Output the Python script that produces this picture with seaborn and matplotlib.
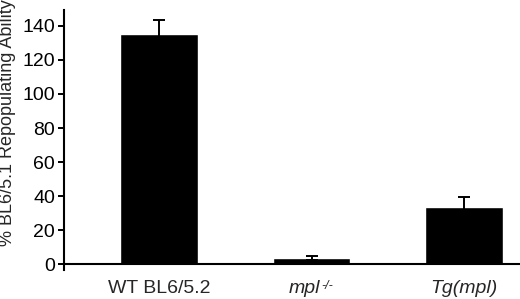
import matplotlib
matplotlib.use("Agg")
import matplotlib.pyplot as plt
import matplotlib.transforms as mtransforms
import seaborn as sns
import pandas as pd

categories = ["WT BL6/5.2", "mpl-/-", "Tg(mpl)"]
tick_labels = ["WT BL6/5.2", "mpl", "Tg(mpl)"]
superscript = "-/-"
means = [135.3, 3.5, 33.3]
errors = [8.2, 1.0, 6.3]
yticks = [0, 20, 40, 60, 80, 100, 120, 140]

sns.set_style("white")
plt.rcParams["font.family"] = ["Liberation Sans", "DejaVu Sans"]

df = pd.DataFrame({"cat": categories, "val": means})

fig = plt.figure(figsize=(5.2, 2.99), dpi=100)
ax = fig.add_axes([0.123, 0.097, 0.877, 0.8696])
sns.barplot(data=df, x="cat", y="val", color="black", width=0.51,
            errorbar=None, ax=ax, saturation=1)
ax.errorbar(range(len(categories)), means, yerr=errors,
            fmt="none", ecolor="black", elinewidth=1.4, capsize=4,
            capthick=1.4)

ax.set_ylim(-3.5, 149.4)
ax.set_xlim(-0.623, 2.367)
ax.set_yticks(yticks)
ax.set_yticklabels([str(t) for t in yticks], fontsize=14)
ax.set_xticks(range(len(categories)))
ax.set_xticklabels(tick_labels, fontsize=14)
ax.tick_params(axis="x", length=0, pad=7)
ax.tick_params(axis="y", direction="out", length=4.3, width=1.4, pad=2,
               left=True, colors="black")
ax.set_xlabel("")
ax.set_ylabel("% BL6/5.1 Repopulating Ability", fontsize=13, labelpad=2)
ax.yaxis.set_label_coords(-0.105, 0.565)

xl = ax.get_xticklabels()
for lab in xl[1:]:
    lab.set_style("italic")
# shift "mpl" left so that "mpl-/-" is centred under the bar
lab = xl[1]
offset = mtransforms.ScaledTranslation(-7 / 100, 0, fig.dpi_scale_trans)
lab.set_transform(lab.get_transform() + offset)
ax.annotate(superscript, xy=(1.0, 1.0), xycoords=lab, xytext=(0.5, 0),
            textcoords="offset points", ha="left", va="top",
            fontsize=9, style="italic", annotation_clip=False)

for s in ["top", "right", "bottom"]:
    ax.spines[s].set_visible(False)
ax.spines["left"].set_linewidth(1.5)
ax.spines["left"].set_color("black")
ax.axhline(0, color="black", lw=1.5, zorder=5)

fig.savefig("out.png", dpi=100)
